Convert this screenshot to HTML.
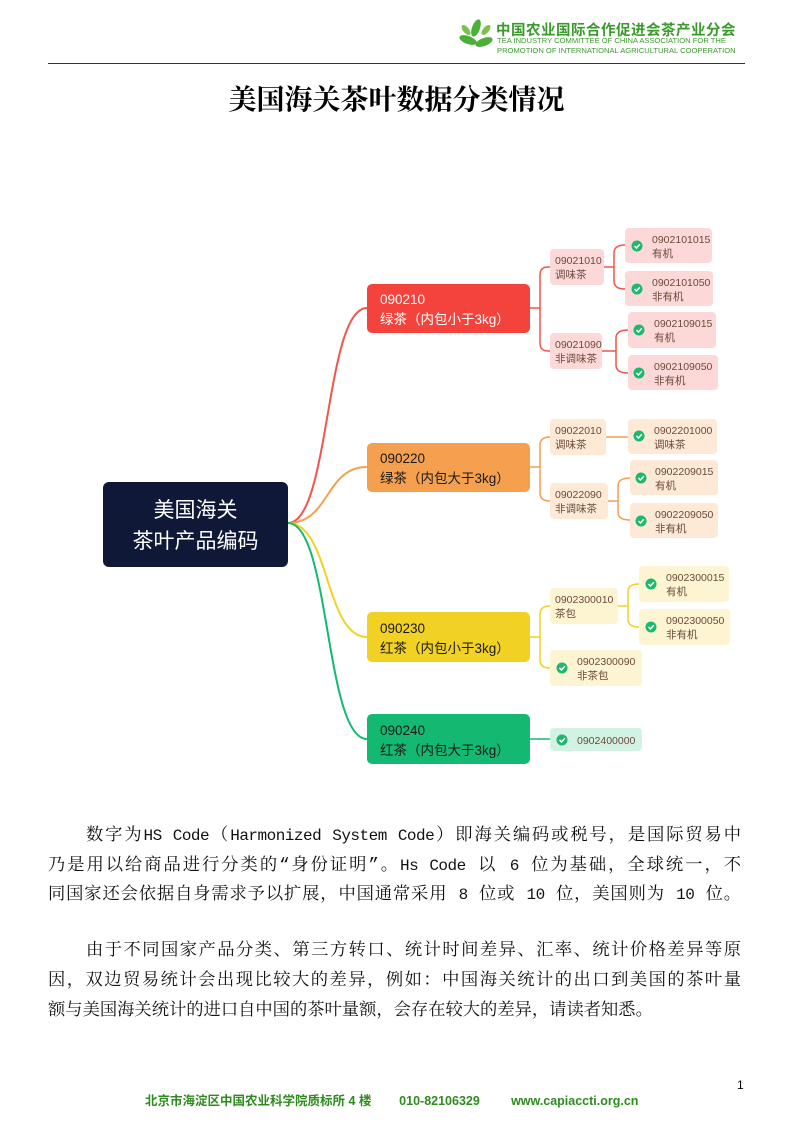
<!DOCTYPE html>
<html><head><meta charset="utf-8"><style>
body{margin:0;width:793px;height:1122px;position:relative;background:#fff;overflow:hidden;font-family:"Liberation Sans","Noto Sans CJK SC",sans-serif}
.a{position:absolute}
.ln{position:absolute;left:48px;width:693px;font-family:"Liberation Mono","Noto Serif CJK SC",serif;font-size:17.3px;color:#111;text-align:justify;text-align-last:justify;white-space:nowrap;line-height:20px}
.ln.i{left:86px;width:655px}
.m{font-size:16px;letter-spacing:-0.5px}
</style></head><body>
<svg class="a" style="left:458px;top:18px" width="36" height="36" viewBox="0 0 36 36">
<g fill="#4caf3a"><ellipse cx="18" cy="10" rx="4" ry="9" transform="rotate(20 18 10)"/><ellipse cx="10" cy="22" rx="4" ry="9" transform="rotate(-70 10 22)"/><ellipse cx="26" cy="24" rx="4" ry="9" transform="rotate(70 26 24)"/><ellipse cx="8" cy="12" rx="3" ry="6" transform="rotate(-40 8 12)" fill="#7cc24a"/><ellipse cx="28" cy="12" rx="3" ry="6" transform="rotate(40 28 12)" fill="#7cc24a"/></g></svg>
<div class="a" style="left:496px;top:19px;font-size:14.5px;font-weight:bold;color:#3a9a2c;letter-spacing:0.5px">中国农业国际合作促进会茶产业分会</div>
<div class="a" style="left:497px;top:36px;font-size:7.6px;color:#3a9a2c;line-height:10px">TEA INDUSTRY COMMITTEE OF CHINA ASSOCIATION FOR THE<br>PROMOTION OF INTERNATIONAL AGRICULTURAL COOPERATION</div>
<div class="a" style="left:48px;top:63px;width:697px;height:1px;background:#333"></div>
<div class="a" style="left:0;top:84px;width:793px;text-align:center;font-family:'Liberation Serif','Noto Serif CJK SC',serif;font-weight:bold;font-size:28px;line-height:34px;color:#000">美国海关茶叶数据分类情况</div>

<svg class="a" style="left:0;top:0" width="793" height="800">
<defs><g id="ck"><circle r="5.5" fill="#1cb86e"/><path d="M-2.5 0 L-0.6 2 L2.8 -1.8" stroke="#fff" stroke-width="1.5" fill="none"/></g></defs>
<g fill="none" stroke-width="2">
<path d="M288 523 C330 523 325 308 367 308" stroke="#f4544c"/>
<path d="M288 523 C330 523 325 467 367 467" stroke="#f4a04e"/>
<path d="M288 523 C330 523 325 637 367 637" stroke="#f2d125"/>
<path d="M288 523 C330 523 325 739 367 739" stroke="#13b871"/>
</g>
<g fill="none" stroke-width="1.5">
<g stroke="#f4544c"><path d="M530 308 H540 M550 267 H548 Q540 267 540 275 V343 Q540 351 548 351 H550"/><path d="M604 267 H614 M625 245 Q614 245 614 253 V281 Q614 289 625 289"/><path d="M602 351 H616 M628 330 Q616 330 616 338 V365 Q616 373 628 373"/></g>
<g stroke="#f4a04e"><path d="M530 467 H540 M550 437 Q540 437 540 445 V493 Q540 501 550 501"/><path d="M606 437 H628"/><path d="M608 501 H618 M630 478 Q618 478 618 486 V512 Q618 520 630 520"/></g>
<g stroke="#f2d125"><path d="M530 637 H540 M550 606 Q540 606 540 614 V660 Q540 668 550 668"/><path d="M618 606 H628 M639 584 Q628 584 628 592 V619 Q628 627 639 627"/></g>
<g stroke="#13b871"><path d="M530 739 H550"/></g>
</g>
<rect x="103" y="482" width="185" height="85" rx="6" fill="#0f1836"/>
<text x="195.5" y="517" font-size="21" fill="#fff" text-anchor="middle">美国海关</text>
<text x="195.5" y="548" font-size="21" fill="#fff" text-anchor="middle">茶叶产品编码</text>
<g font-size="13.5">
<rect x="367" y="284" width="163" height="49" rx="5" fill="#f4433c"/><text x="380" y="304" fill="#fff">090210</text><text x="380" y="324" fill="#fff">绿茶（内包小于3kg）</text>
<rect x="367" y="443" width="163" height="49" rx="5" fill="#f4a04e"/><text x="380" y="463" fill="#1a1a1a">090220</text><text x="380" y="483" fill="#1a1a1a">绿茶（内包大于3kg）</text>
<rect x="367" y="612" width="163" height="50" rx="5" fill="#f2d125"/><text x="380" y="633" fill="#1a1a1a">090230</text><text x="380" y="653" fill="#1a1a1a">红茶（内包小于3kg）</text>
<rect x="367" y="714" width="163" height="50" rx="5" fill="#13b871"/><text x="380" y="735" fill="#1a1a1a">090240</text><text x="380" y="755" fill="#1a1a1a">红茶（内包大于3kg）</text>
</g>
<g font-size="10.5" fill="#6b4a3a">
<rect x="550" y="249" width="54" height="36" rx="4" fill="#fdd8d8"/><text x="555" y="264">09021010</text><text x="555" y="278">调味茶</text>
<rect x="550" y="333" width="52" height="36" rx="4" fill="#fdd8d8"/><text x="555" y="348">09021090</text><text x="555" y="362">非调味茶</text>
<rect x="625" y="228" width="87" height="35" rx="4" fill="#fdd8d8"/><text x="652" y="243">0902101015</text><text x="652" y="257">有机</text><use href="#ck" x="637" y="246"/>
<rect x="625" y="271" width="88" height="35" rx="4" fill="#fdd8d8"/><text x="652" y="286">0902101050</text><text x="652" y="300">非有机</text><use href="#ck" x="637" y="289"/>
<rect x="628" y="312" width="88" height="36" rx="4" fill="#fdd8d8"/><text x="654" y="327">0902109015</text><text x="654" y="341">有机</text><use href="#ck" x="639" y="330"/>
<rect x="628" y="355" width="90" height="35" rx="4" fill="#fdd8d8"/><text x="654" y="370">0902109050</text><text x="654" y="384">非有机</text><use href="#ck" x="639" y="373"/>

<rect x="550" y="419" width="56" height="36" rx="4" fill="#fde9d6"/><text x="555" y="434">09022010</text><text x="555" y="448">调味茶</text>
<rect x="628" y="419" width="89" height="35" rx="4" fill="#fde9d6"/><text x="654" y="434">0902201000</text><text x="654" y="448">调味茶</text><use href="#ck" x="639" y="436"/>
<rect x="550" y="483" width="58" height="36" rx="4" fill="#fde9d6"/><text x="555" y="498">09022090</text><text x="555" y="512">非调味茶</text>
<rect x="630" y="460" width="88" height="35" rx="4" fill="#fde9d6"/><text x="655" y="475">0902209015</text><text x="655" y="489">有机</text><use href="#ck" x="641" y="478"/>
<rect x="630" y="503" width="88" height="35" rx="4" fill="#fde9d6"/><text x="655" y="518">0902209050</text><text x="655" y="532">非有机</text><use href="#ck" x="641" y="521"/>

<rect x="550" y="588" width="68" height="36" rx="4" fill="#fdf5d2"/><text x="555" y="603">0902300010</text><text x="555" y="617">茶包</text>
<rect x="639" y="566" width="90" height="36" rx="4" fill="#fdf5d2"/><text x="666" y="581">0902300015</text><text x="666" y="595">有机</text><use href="#ck" x="651" y="584"/>
<rect x="639" y="609" width="91" height="36" rx="4" fill="#fdf5d2"/><text x="666" y="624">0902300050</text><text x="666" y="638">非有机</text><use href="#ck" x="651" y="627"/>
<rect x="550" y="650" width="92" height="36" rx="4" fill="#fdf5d2"/><text x="577" y="665">0902300090</text><text x="577" y="679">非茶包</text><use href="#ck" x="562" y="668"/>

<rect x="550" y="728" width="92" height="23" rx="4" fill="#d2f2e3"/><text x="577" y="744">0902400000</text><use href="#ck" x="562" y="740"/>
</g>
</svg>

<div class="ln i" style="top:826px">数字为<span class="m">HS Code</span>（<span class="m">Harmonized System Code</span>）即海关编码或税号，是国际贸易中</div>
<div class="ln" style="top:856px">乃是用以给商品进行分类的“身份证明”。<span class="m">Hs Code</span> 以 <span class="m">6</span> 位为基础，全球统一，不</div>
<div class="ln" style="top:885px">同国家还会依据自身需求予以扩展，中国通常采用 <span class="m">8</span> 位或 <span class="m">10</span> 位，美国则为 <span class="m">10</span> 位。</div>
<div class="ln i" style="top:942px">由于不同国家产品分类、第三方转口、统计时间差异、汇率、统计价格差异等原</div>
<div class="ln" style="top:972px">因，双边贸易统计会出现比较大的差异，例如：中国海关统计的出口到美国的茶叶量</div>
<div class="ln" style="top:1002px;text-align-last:left;width:auto">额与美国海关统计的进口自中国的茶叶量额，会存在较大的差异，请读者知悉。</div>

<div class="a" style="left:737px;top:1078px;font-size:12px">1</div>
<div class="a" style="left:145px;top:1090px;font-size:12.5px;font-weight:bold;color:#2e8b1e;white-space:pre">北京市海淀区中国农业科学院质标所 4 楼        010-82106329         www.capiaccti.org.cn</div>
</body></html>
